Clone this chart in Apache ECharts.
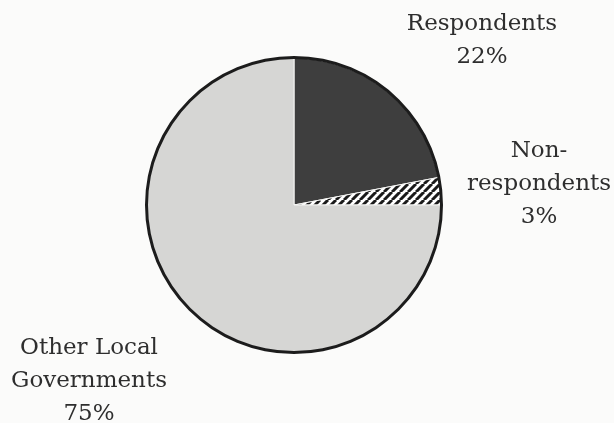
<!DOCTYPE html>
<html><head><meta charset="utf-8">
<script src="https://cdn.jsdelivr.net/npm/echarts@6/dist/echarts.min.js"></script>
<style>html,body{margin:0;padding:0;background:#fbfbfa;}#c{width:614px;height:423px;}</style>
</head><body><div id="c"></div>
<script>
const categories = ['Respondents', 'Non-\nrespondents', 'Other Local\nGovernments'];
const values = [22, 3, 75];
const sliceColors = ['#3e3e3e', 'hatch', '#d6d6d4'];

function hatchPattern() {
  const s = 8;
  const cv = document.createElement('canvas');
  cv.width = s; cv.height = s;
  const g = cv.getContext('2d');
  g.fillStyle = '#ffffff';
  g.fillRect(0, 0, s, s);
  g.strokeStyle = '#1a1a1a';
  g.lineWidth = 3;
  g.beginPath();
  for (let k = -1; k <= 1; k++) {
    g.moveTo(k * s, s);
    g.lineTo(k * s + s, 0);
  }
  g.stroke();
  return { image: cv, repeat: 'repeat' };
}

const labelPos = [
  { x: 482, y: 41 },
  { x: 539, y: 184 },
  { x: 89, y: 381 }
];

const chart = echarts.init(document.getElementById('c'), null, { renderer: 'canvas' });
const center = [294, 205];
chart.setOption({
  backgroundColor: '#fbfbfa',
  animation: false,
  series: [
    {
      type: 'pie',
      center: center,
      radius: 147,
      startAngle: 90,
      clockwise: true,
      silent: true,
      data: categories.map((c, i) => ({
        name: c,
        value: values[i],
        itemStyle: { color: sliceColors[i] === 'hatch' ? hatchPattern() : sliceColors[i] }
      })),
      itemStyle: { borderColor: '#f4f4f2', borderWidth: 1 },
      label: {
        show: true,
        position: 'outside',
        overflow: 'none',
        formatter: p => p.name + '\n' + p.value + '%',
        fontFamily: 'DejaVu Serif',
        fontSize: 23,
        lineHeight: 33,
        color: '#2e2e2e',
        align: 'center'
      },
      labelLine: { show: false },
      labelLayout: function (params) {
        const p = labelPos[params.dataIndex];
        return { x: p.x, y: p.y, align: 'center', verticalAlign: 'middle', width: 200 };
      }
    },
    {
      type: 'pie',
      center: center,
      radius: [146, 149],
      silent: true,
      label: { show: false },
      labelLine: { show: false },
      itemStyle: { color: '#1c1c1c' },
      data: [{ name: 'outline', value: 1 }]
    }
  ]
});
</script>
</body></html>
